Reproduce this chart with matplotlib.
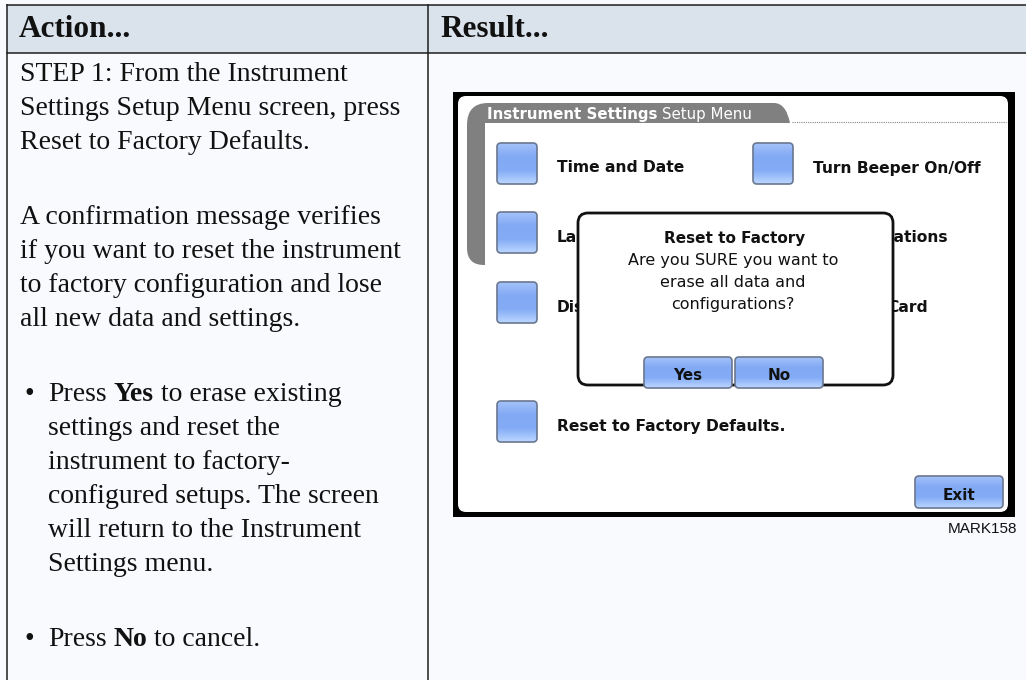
import numpy as np
import matplotlib
matplotlib.use("Agg")
import matplotlib.pyplot as plt
from matplotlib.patches import Rectangle, FancyBboxPatch, PathPatch
from matplotlib.path import Path
from matplotlib.colors import LinearSegmentedColormap

W, H = 1026, 680

# ---- text content ----
headers = ["Action...", "Result..."]
step_lines = [
    "STEP 1: From the Instrument",
    "Settings Setup Menu screen, press",
    "Reset to Factory Defaults.",
]
confirm_lines = [
    "A confirmation message verifies",
    "if you want to reset the instrument",
    "to factory configuration and lose",
    "all new data and settings.",
]
yes_bullet = [
    [("Press", False), ("Yes", True), ("to erase existing", False)],
    [("settings and reset the", False)],
    [("instrument to factory-", False)],
    [("configured setups. The screen", False)],
    [("will return to the Instrument", False)],
    [("Settings menu.", False)],
]
no_bullet = [
    [("Press", False), ("No", True), ("to cancel.", False)],
]

tab_title = ("Instrument Settings", "Setup Menu")
menu_left = ["Time and Date", "La", "Dis"]
menu_right = ["Turn Beeper On/Off", "tations", "Card"]
menu_bottom = "Reset to Factory Defaults."
dialog_title = "Reset to Factory"
dialog_lines = ["Are you SURE you want to", "erase all data and", "configurations?"]
dialog_buttons = ["Yes", "No"]
exit_label = "Exit"
figure_code = "MARK158"

PAGE = "#F9FAFD"
HEAD = "#DAE2EB"
LINE = "#1E1E1E"
SERIF = "Liberation Serif"
BODY = 20

fig = plt.figure(figsize=(W / 100, H / 100), dpi=100, facecolor=PAGE)
ax = fig.add_axes([0, 0, 1, 1])
ax.set_xlim(0, W)
ax.set_ylim(H, 0)
ax.axis("off")
renderer = fig.canvas.get_renderer()

# ---- table frame ----
ax.add_patch(Rectangle((7, 5), W - 7, 48, fc=HEAD, ec="none", zorder=1))
ax.plot([7, W], [5, 5], color=LINE, lw=1.1, zorder=2)
ax.plot([7, W], [53, 53], color=LINE, lw=1.1, zorder=2)
ax.plot([7, 7], [5, H], color=LINE, lw=1.1, zorder=2)
ax.plot([428, 428], [5, H], color=LINE, lw=1.1, zorder=2)

for x, h in zip([19, 440], headers):
    ax.text(x, 37, h, fontsize=22.5, fontweight="bold", family=SERIF,
            va="baseline", ha="left", color="#111111")


def text_width(s, **kw):
    t = ax.text(0, 0, s, **kw)
    w = t.get_window_extent(renderer=renderer).width
    t.remove()
    return w


space_w = text_width("a a", fontsize=BODY, family=SERIF) - \
    text_width("aa", fontsize=BODY, family=SERIF)


def draw_runs(x, y, runs):
    for i, (s, bold) in enumerate(runs):
        if i > 0:
            x += space_w
        t = ax.text(x, y, s, fontsize=BODY, family=SERIF,
                    fontweight="bold" if bold else "normal",
                    va="baseline", ha="left", color="#111111")
        x += t.get_window_extent(renderer=renderer).width


step = 34
y = 81
for s in step_lines:
    draw_runs(20, y, [(s, False)])
    y += step
y += 75 - step
for s in confirm_lines:
    draw_runs(20, y, [(s, False)])
    y += step
y += 75 - step
for block in (yes_bullet, no_bullet):
    ax.text(25, y, "\u2022", fontsize=BODY, family=SERIF, va="baseline",
            color="#111111")
    for runs in block:
        draw_runs(48, y, runs)
        y += step
    y += 75 - step

# ---- instrument screenshot ----
SANS = "DejaVu Sans"
ax.add_patch(Rectangle((453, 92), 1015 - 453, 517 - 92, fc="black",
                       ec="none", zorder=3))
sx0, sy0, sx1, sy1 = 458, 96, 1008, 512
ax.add_patch(FancyBboxPatch((sx0 + 8, sy0 + 8), sx1 - sx0 - 16,
                            sy1 - sy0 - 16, boxstyle="round,pad=8",
                            fc="white", ec="none", zorder=3))

# grey tab with left bar
verts = [(485, 265), (485, 123), (790, 123), (786, 103), (774, 103),
         (488, 103), (467, 103), (467, 125), (467, 248), (467, 265),
         (484, 265), (485, 265)]
codes = [Path.MOVETO, Path.LINETO, Path.LINETO, Path.CURVE3, Path.CURVE3,
         Path.LINETO, Path.CURVE3, Path.CURVE3, Path.LINETO, Path.CURVE3,
         Path.CURVE3, Path.CLOSEPOLY]
ax.add_patch(PathPatch(Path(verts, codes), fc="#808080", ec="none", zorder=4))
ax.plot([792, 1006], [122, 122], color="#888888", lw=0.8, ls=(0, (1, 1)),
        zorder=4)
t = ax.text(487, 114, tab_title[0], fontsize=10.8, fontweight="bold",
            family=SANS, color="white", va="center", ha="left", zorder=5)
tx = 487 + t.get_window_extent(renderer=renderer).width + 5
ax.text(tx, 114, tab_title[1], fontsize=10.8, family=SANS, color="white",
        va="center", ha="left", zorder=5)

btn_cmap = LinearSegmentedColormap.from_list(
    "btn", ["#A4C2FA", "#82A9F4", "#84ACF6", "#BBD6FF"])


def button(x0, y0, x1, y1, label=None, z=6):
    r = 4
    patch = FancyBboxPatch((x0 + r, y0 + r), x1 - x0 - 2 * r, y1 - y0 - 2 * r,
                           boxstyle="round,pad=%d" % r, fc="none",
                           ec="#6A7790", lw=1.2, zorder=z + 1)
    ax.add_patch(patch)
    im = ax.imshow(np.linspace(0, 1, 60)[:, None], extent=(x0, x1, y1, y0),
                   cmap=btn_cmap, aspect="auto", zorder=z,
                   interpolation="bilinear")
    im.set_clip_path(patch)
    if label:
        ax.text((x0 + x1) / 2, (y0 + y1) / 2 + 3, label, fontsize=11,
                fontweight="bold", family=SANS, color="#111111",
                ha="center", va="center", zorder=z + 2)


MENU_FS = 11.2
row_tops = [143, 212, 282]
for i, top in enumerate(row_tops):
    button(497, top, 537, top + 41)
    ax.text(557, top + 25, menu_left[i], fontsize=MENU_FS, fontweight="bold",
            family=SANS, color="#111111", va="center", ha="left", zorder=5)
    if i == 0:
        button(753, top, 793, top + 41)
        ax.text(813, top + 25, menu_right[i], fontsize=MENU_FS,
                fontweight="bold", family=SANS, color="#111111",
                va="center", ha="left", zorder=5)
    else:
        ax.text(887, top + 25, menu_right[i], fontsize=MENU_FS,
                fontweight="bold", family=SANS, color="#111111",
                va="center", ha="left", zorder=5)

button(497, 401, 537, 442)
ax.text(557, 426, menu_bottom, fontsize=MENU_FS, fontweight="bold",
        family=SANS, color="#111111", va="center", ha="left", zorder=5)

# confirmation dialog
ax.add_patch(FancyBboxPatch((588, 223), 893 - 588 - 10, 395 - 223 - 20,
                            boxstyle="round,pad=10", fc="white", ec="#111111",
                            lw=2.0, zorder=8))
ax.text(735, 238, dialog_title, fontsize=11, fontweight="bold", family=SANS,
        color="#111111", ha="center", va="center", zorder=9)
for k, s in enumerate(dialog_lines):
    ax.text(733, 260 + 22.5 * k, s, fontsize=11.5, family=SANS,
            color="#111111", ha="center", va="center", zorder=9)
button(644, 357, 732, 388, dialog_buttons[0], z=10)
button(735, 357, 823, 388, dialog_buttons[1], z=10)

button(915, 476, 1003, 508, exit_label, z=6)

ax.text(1017, 533, figure_code, fontsize=11, family="Liberation Sans",
        color="#111111", ha="right", va="baseline")

fig.savefig("out.png", dpi=100, facecolor=PAGE)
